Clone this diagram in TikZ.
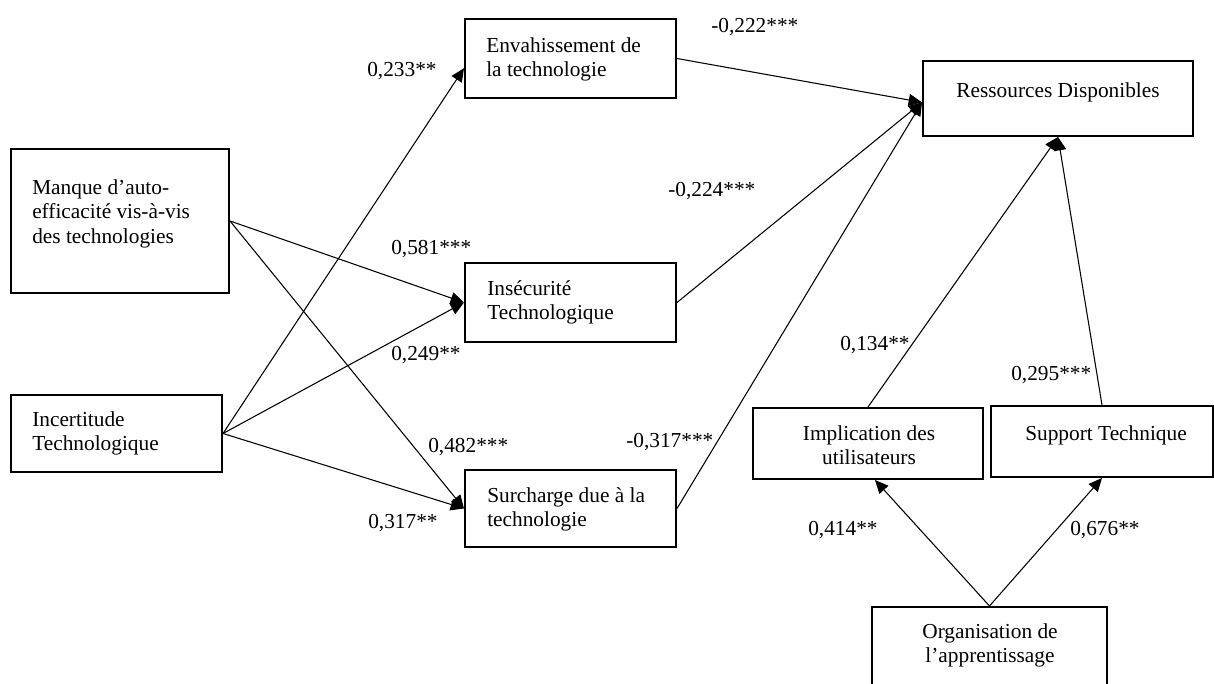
\documentclass[tikz,border=0pt]{standalone}
\usepackage{fontspec}
\setmainfont{Liberation Serif}
\usetikzlibrary{arrows.meta,calc}
\begin{document}
\begin{tikzpicture}[x=0.75pt,y=-0.75pt,
  box/.style={draw=black,line width=1.5pt,fill=none,inner sep=0pt},
  txt/.style={inner sep=0pt,font=\fontsize{16pt}{18.4pt}\selectfont},
  lab/.style={inner sep=0pt,anchor=base west,font=\fontsize{16pt}{18.4pt}\selectfont},
  conn/.style={draw=black,line width=0.8pt,-{Triangle[length=10pt,width=9pt]}}]
\useasboundingbox (0,0) rectangle (1214,684);
% boxes
\node[box,minimum width=163.5pt,minimum height=108pt] (man) at (120,221) {};
\node[box,minimum width=158.25pt,minimum height=57.75pt] (inc) at (116.5,433.5) {};
\node[box,minimum width=158.25pt,minimum height=59.25pt] (env) at (570.5,58.5) {};
\node[box,minimum width=158.25pt,minimum height=59.25pt] (ins) at (570.5,302.5) {};
\node[box,minimum width=158.25pt,minimum height=57.75pt] (sur) at (570.5,508.5) {};
\node[box,minimum width=202.5pt,minimum height=56.25pt] (res) at (1058,98.5) {};
\node[box,minimum width=172.5pt,minimum height=53.25pt] (imp) at (868,443.5) {};
\node[box,minimum width=166.5pt,minimum height=53.25pt] (sup) at (1102,441.5) {};
\node[box,minimum width=176.25pt,minimum height=69.75pt] (org) at (989.5,653.5) {};
% box texts
\node[txt,anchor=north west,align=left] (mant) at (32,176.8) {\strut Manque d’auto-\\efficacité vis-à-vis\\des technologies};
\node[txt,anchor=north west,align=left] (inct) at (32,408.8) {\strut Incertitude\\Technologique};
\node[txt,anchor=north west,align=left] (envt) at (486,34.8) {\strut Envahissement de\\la technologie};
\node[txt,anchor=north west,align=left] (inst) at (487,277.8) {\strut Insécurité\\Technologique};
\node[txt,anchor=north west,align=left] (surt) at (487,484.8) {\strut Surcharge due à la\\technologie};
\node[txt,anchor=north,align=center] (rest) at (1058,79.8) {\strut Ressources Disponibles};
\node[txt,anchor=north,align=center] (impt) at (869,422.8) {\strut Implication des\\utilisateurs};
\node[txt,anchor=north,align=center] (supt) at (1106,422.8) {\strut Support Technique};
\node[txt,anchor=north,align=center] (orgt) at (990,620.8) {\strut Organisation de\\l’apprentissage};
% connectors
\coordinate (envin) at ($(env.north west)!0.62!(env.south west)$);
\coordinate (resin) at ($(res.north west)!0.55!(res.south west)$);
\coordinate (impin) at ($(imp.south west)!0.53!(imp.south east)$);
\draw[conn] (inc.east) -- (envin);
\draw[conn] (inc.east) -- (ins.west);
\draw[conn] (inc.east) -- (sur.west);
\draw[conn] (man.east) -- (ins.west);
\draw[conn] (man.east) -- (sur.west);
\draw[conn] (env.east) -- (resin);
\draw[conn] (ins.east) -- (resin);
\draw[conn] (sur.east) -- (resin);
\draw[conn] (imp.north) -- (res.south);
\draw[conn] (sup.north) -- (res.south);
\draw[conn] (org.north) -- (impin);
\draw[conn] (org.north) -- (sup.south);
% labels
\node[lab] (l1) at (711,33) {-0,222***};
\node[lab] (l2) at (367,77) {0,233**};
\node[lab] (l3) at (391,255) {0,581***};
\node[lab] (l4) at (391,360) {0,249**};
\node[lab] (l5) at (428,452) {0,482***};
\node[lab] (l6) at (368,528) {0,317**};
\node[lab] (l7) at (668,197) {-0,224***};
\node[lab] (l8) at (626,447) {-0,317***};
\node[lab] (l9) at (840,350) {0,134**};
\node[lab] (l10) at (1011,380) {0,295***};
\node[lab] (l11) at (808,535) {0,414**};
\node[lab] (l12) at (1070,535) {0,676**};
\end{tikzpicture}
\end{document}
